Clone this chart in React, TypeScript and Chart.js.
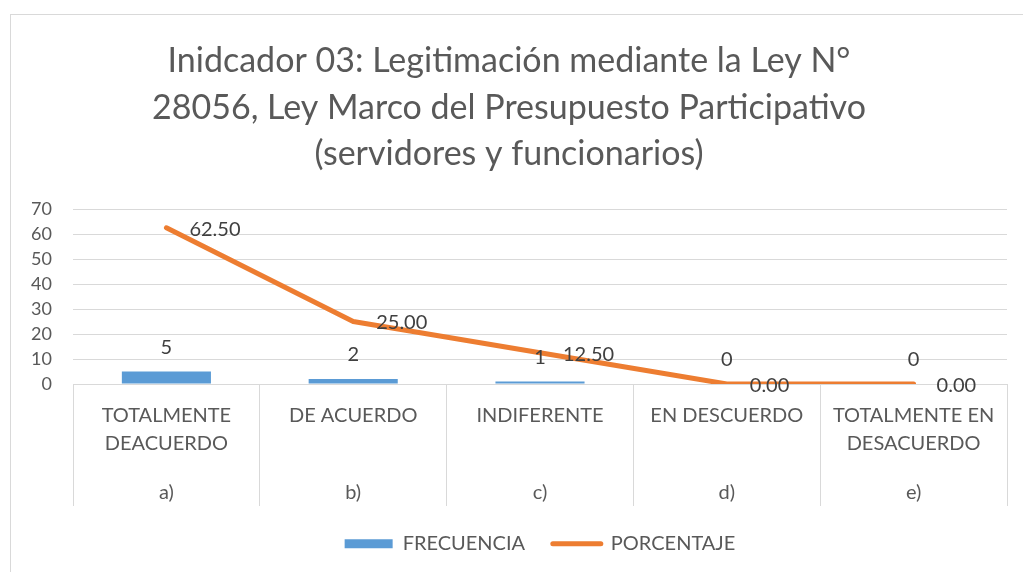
import React, { useEffect, useRef } from "react";
import { Chart, registerables } from "chart.js";

Chart.register(...registerables);

const titleLines = [
  "Inidcador 03: Legitimación mediante la Ley N°",
  "28056, Ley Marco del Presupuesto Participativo",
  "(servidores y funcionarios)",
];
const categories: string[][] = [
  ["TOTALMENTE", "DEACUERDO"],
  ["DE ACUERDO"],
  ["INDIFERENTE"],
  ["EN DESCUERDO"],
  ["TOTALMENTE EN", "DESACUERDO"],
];
const groupLabels = ["a)", "b)", "c)", "d)", "e)"];
const frecuencia = [5, 2, 1, 0, 0];
const porcentaje = [62.5, 25.0, 12.5, 0.0, 0.0];
const yTicks = { min: 0, max: 70, step: 10 };

const FONT = "Lato, 'Open Sans', sans-serif";
const BLUE = "#5B9BD5";
const ORANGE = "#ED7D31";
const GRID = "#d9d9d9";
const TEXT = "#595959";

const labelPlugin = {
  id: "valueLabels",
  afterDatasetsDraw(chart: any) {
    const ctx = chart.ctx;
    ctx.save();
    ctx.font = `20px ${FONT}`;
    ctx.fillStyle = "#404040";
    const barMeta = chart.getDatasetMeta(0);
    barMeta.data.forEach((el: any, i: number) => {
      ctx.textAlign = "center";
      ctx.textBaseline = "middle";
      ctx.fillText(String(frecuencia[i]), el.x, el.y - 24);
    });
    const lineMeta = chart.getDatasetMeta(1);
    lineMeta.data.forEach((el: any, i: number) => {
      ctx.textAlign = "left";
      ctx.textBaseline = "middle";
      ctx.fillText(porcentaje[i].toFixed(2), el.x + 23, el.y + 1.5);
    });
    ctx.restore();
  },
};

export default function App() {
  const ref = useRef<HTMLCanvasElement | null>(null);
  useEffect(() => {
    if (!ref.current) return;
    Chart.defaults.font.family = FONT;
    const chart = new Chart(ref.current, {
      type: "bar",
      data: {
        labels: categories,
        datasets: [
          {
            type: "bar",
            label: "FRECUENCIA",
            data: frecuencia,
            backgroundColor: BLUE,
            barPercentage: 0.477,
            categoryPercentage: 1,
            order: 1,
          },
          {
            type: "line",
            label: "PORCENTAJE",
            data: porcentaje,
            borderColor: ORANGE,
            backgroundColor: ORANGE,
            borderWidth: 5,
            borderCapStyle: "round",
            borderJoinStyle: "round",
            pointRadius: 0,
            tension: 0,
            order: 0,
          } as any,
        ],
      },
      options: {
        responsive: false,
        animation: false,
        layout: { padding: { left: 0, right: 22, top: 0, bottom: 11.3 } },
        plugins: {
          tooltip: { enabled: false },
          title: {
            display: true,
            text: titleLines,
            color: TEXT,
            font: { size: 34, weight: "normal", lineHeight: "46.5px", family: FONT },
            padding: { top: 23, bottom: 31.5 },
          },
          legend: {
            position: "bottom",
            fullSize: false,
            labels: {
              usePointStyle: true,
              pointStyleWidth: 48,
              boxHeight: 9,
              padding: 27.7,
              color: TEXT,
              font: { size: 20, family: FONT },
              generateLabels: () => [
                {
                  text: "FRECUENCIA",
                  fillStyle: BLUE,
                  strokeStyle: BLUE,
                  lineWidth: 0,
                  pointStyle: "rect",
                  datasetIndex: 0,
                  hidden: false,
                  fontColor: TEXT,
                } as any,
                {
                  text: "PORCENTAJE",
                  fillStyle: ORANGE,
                  strokeStyle: ORANGE,
                  lineWidth: 5,
                  lineCap: "round",
                  pointStyle: "line",
                  datasetIndex: 1,
                  hidden: false,
                  fontColor: TEXT,
                } as any,
              ],
            },
          },
        },
        scales: {
          x: {
            type: "category",
            position: "bottom",
            offset: true,
            grid: {
              display: true,
              offset: true,
              drawOnChartArea: false,
              drawTicks: true,
              tickLength: 122,
              color: GRID,
              lineWidth: 1,
            },
            border: { display: true, color: GRID },
            ticks: {
              color: TEXT,
              font: { size: 20, lineHeight: "28px", family: FONT },
              padding: -104.3,
              maxRotation: 0,
              autoSkip: false,
            },
            afterFit: (s: any) => {
              s.height = 80;
            },
          },
          x2: {
            type: "category",
            position: "bottom",
            labels: groupLabels,
            offset: true,
            grid: { display: false, drawTicks: false },
            border: { display: false },
            ticks: {
              color: TEXT,
              font: { size: 20, lineHeight: "28px", family: FONT },
              padding: 14.4,
              maxRotation: 0,
              autoSkip: false,
            },
            afterFit: (s: any) => {
              s.height = 42;
            },
          },
          y: {
            min: yTicks.min,
            max: yTicks.max,
            grid: { color: GRID, drawTicks: false },
            border: { display: false },
            ticks: {
              stepSize: yTicks.step,
              color: TEXT,
              font: { size: 18, family: FONT },
              padding: 21,
            },
            afterFit: (s: any) => {
              s.width = 62;
            },
          },
        },
      },
      plugins: [labelPlugin],
    });
    return () => chart.destroy();
  }, []);

  return (
    <div
      style={{
        position: "fixed",
        left: 0,
        top: 0,
        width: 1023,
        height: 572,
        overflow: "hidden",
        background: "#fff",
      }}
    >
      <div
        style={{
          position: "absolute",
          left: 10,
          top: 14,
          width: 1030,
          height: 600,
          borderLeft: "1px solid #d9d9d9",
          borderTop: "1px solid #d9d9d9",
        }}
      >
        <canvas
          ref={ref}
          width={1018}
          height={560}
          style={{ display: "block", width: 1018, height: 560 }}
        />
      </div>
    </div>
  );
}
